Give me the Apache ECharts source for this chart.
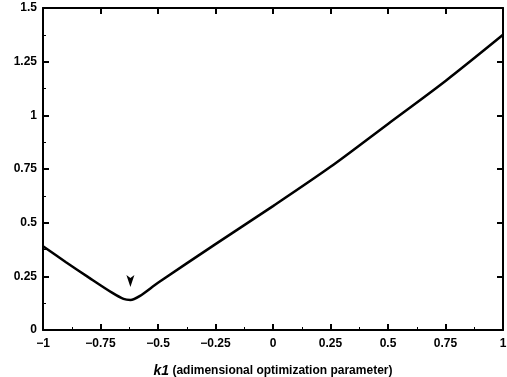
<!DOCTYPE html>
<html>
<head>
<meta charset="utf-8">
<script src="https://cdn.jsdelivr.net/npm/echarts@6/dist/echarts.min.js"></script>
<style>
  html, body { margin: 0; padding: 0; background: #fff; }
  #chart { width: 507px; height: 377px; }
</style>
</head>
<body>
<div id="chart"></div>
<script>
// k1 values and the objective
const k1 = [-1, -0.9, -0.8, -0.7, -0.65, -0.62, -0.58, -0.5, -0.25, 0, 0.25, 0.5, 0.75, 1]
const objective = [0.39, 0.316, 0.244, 0.174, 0.145, 0.14, 0.158, 0.22, 0.4, 0.577, 0.76, 0.96, 1.16, 1.375]
const xTicks = ['-1', '-0.75', '-0.5', '-0.25', '0', '0.25', '0.5', '0.75', '1']
const yTicks = ['0', '0.25', '0.5', '0.75', '1', '1.25', '1.5']
const optimum = [-0.62, 0.2]

const font = 'Liberation Sans'
const seriesData = k1.map((x, i) => [x, objective[i]])

const axisLine = { show: true, onZero: false, lineStyle: { color: '#000', width: 2 } }
const tick = { show: true, inside: true, length: 6, lineStyle: { color: '#000', width: 2 } }
const minor = { show: true, splitNumber: 2, length: 3, lineStyle: { color: '#000', width: 1 } }

const chart = echarts.init(document.getElementById('chart'))
chart.setOption({
  animation: false,
  backgroundColor: '#fff',
  grid: { left: 43, right: 4, top: 8, bottom: 47, outerBoundsMode: 'none' },
  xAxis: [
    {
      type: 'value',
      min: -1,
      max: 1,
      interval: 0.25,
      axisLine: axisLine,
      axisTick: tick,
      minorTick: minor,
      splitLine: { show: false },
      axisLabel: {
        margin: 8,
        color: '#000',
        fontFamily: font,
        fontWeight: 'bold',
        fontSize: 12,
        formatter: v => xTicks[Math.round((v + 1) / 0.25)].replace('-', '\u2212')
      },
      name: '{k|k1} {t|(adimensional optimization parameter)}',
      nameLocation: 'middle',
      nameGap: 34,
      nameTextStyle: {
        rich: {
          k: { fontFamily: font, fontStyle: 'italic', fontWeight: 'bold', fontSize: 14, color: '#000' },
          t: { fontFamily: font, fontWeight: 'bold', fontSize: 12, color: '#000' }
        }
      }
    },
    {
      type: 'value',
      position: 'top',
      min: -1,
      max: 1,
      interval: 0.25,
      axisLine: axisLine,
      axisTick: tick,
      axisLabel: { show: false },
      splitLine: { show: false }
    }
  ],
  yAxis: [
    {
      type: 'value',
      min: 0,
      max: 1.5,
      interval: 0.25,
      axisLine: axisLine,
      axisTick: tick,
      minorTick: minor,
      splitLine: { show: false },
      axisLabel: {
        margin: 6,
        color: '#000',
        fontFamily: font,
        fontWeight: 'bold',
        fontSize: 12,
        formatter: v => yTicks[Math.round(v / 0.25)]
      }
    },
    {
      type: 'value',
      position: 'right',
      min: 0,
      max: 1.5,
      interval: 0.25,
      axisLine: axisLine,
      axisTick: tick,
      axisLabel: { show: false },
      splitLine: { show: false }
    }
  ],
  series: [
    {
      type: 'line',
      data: seriesData,
      smooth: 0.3,
      symbol: 'none',
      lineStyle: { color: '#000', width: 2.5 },
      markPoint: {
        symbol: 'arrow',
        symbolSize: [6, 12],
        symbolRotate: 180,
        itemStyle: { color: '#000' },
        label: { show: false },
        data: [{ coord: optimum }]
      }
    }
  ]
})
</script>
</body>
</html>
